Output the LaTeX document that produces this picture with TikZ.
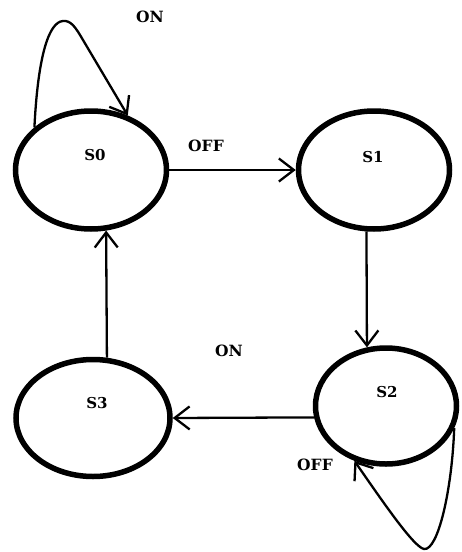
\documentclass[tikz,border=0pt]{standalone}
\usepackage{fontspec}
\setmainfont{DejaVu Serif}
\usetikzlibrary{shapes.geometric,arrows.meta}
\begin{document}
\begin{tikzpicture}[x=1pt,y=-1pt,
  state/.style={ellipse,draw,line width=5.5pt,inner sep=0pt,
    minimum width=151pt,minimum height=118pt},
  slabel/.style={font=\bfseries\fontsize{15}{17}\selectfont},
  tlabel/.style={font=\bfseries\fontsize{15.5}{18}\selectfont},
  arr/.style={line width=2.3pt,-{Straight Barb[length=15pt,width=23pt,line width=2.3pt]}}]
\useasboundingbox (0,0) rectangle (462,552);

% states
\node[state,label={[slabel,xshift=4pt,yshift=15pt]center:S0}] (s0) at (91,170) {};
\node[state,label={[slabel,xshift=-1pt,yshift=13pt]center:S1}] (s1) at (374,170) {};
\node[state,minimum width=141pt,minimum height=116pt,
  label={[slabel,xshift=1pt,yshift=14pt]center:S2}] (s2) at (386,406) {};
\node[state,minimum width=154pt,minimum height=117pt,
  label={[slabel,xshift=4pt,yshift=15pt]center:S3}] (s3) at (93,418) {};

% transitions
\draw[arr] (s0.east) -- (s1.west);
\draw[arr] (s1.263) -- (s2.108);
\draw[arr] (s2.189) -- (s3.east);
\draw[arr] (s3.77) -- (s0.284);

% self loops
\draw[arr] (s0.143) .. controls (38,55) and (49,22) .. (63,21)
  .. controls (71,20) and (76,28) .. (83,40) -- (s0.56);
\draw[arr] (s2.-18) .. controls (452,490) and (438,551) .. (424,549)
  .. controls (414,547) and (385,505) .. (s2.240);

% transition labels
\node[tlabel] (on0) at (150,17) {ON};
\node[tlabel] (off0) at (206,146) {OFF};
\node[tlabel] (on2) at (229,351) {ON};
\node[tlabel] (off2) at (315,465) {OFF};
\end{tikzpicture}
\end{document}
